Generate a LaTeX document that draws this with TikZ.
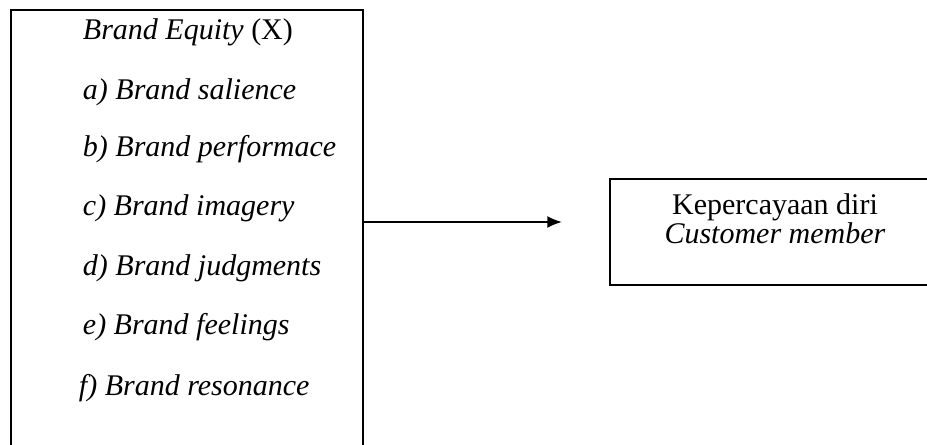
\documentclass[tikz,border=0pt]{standalone}
\usepackage{fontspec}
\setmainfont{Liberation Serif}
\usetikzlibrary{positioning, arrows.meta}

\begin{document}
\begin{tikzpicture}[>={Latex[length=11pt, width=9pt]}, x=0.75pt, y=-0.75pt, line width=1.4pt,
        kotak/.style={draw, line width=1.8pt, inner sep=0pt},
        teks/.style={inner sep=0pt, font=\fontsize{22.5}{20}\selectfont}]
                \useasboundingbox (0,0) rectangle (927,445);
                \clip (0,0) rectangle (927,445);
                
                % 1. Kotak variabel X dan Y
                \node[kotak, minimum width=264pt, minimum height=337.5pt] (kiri) at (187,235) {};
                \node[kotak, minimum width=247.5pt, minimum height=79.5pt] (kanan) at (775,232) {};
                
                % 2. Isi kotak kiri
                \node[teks, anchor=base west] (judul) at (82,40) {\textit{Brand Equity} (X)};
                \foreach \y/\x/\isi [count=\i] in {100/82/a) Brand salience, 157/82/b) Brand performace,
                        215/82/c) Brand imagery, 275/82/d) Brand judgments,
                        334/82/e) Brand feelings, 395/78/f) Brand resonance} {
                    \node[teks, anchor=base west] (item\i) at (\x,\y) {\textit{\isi}};
                }
                
                % 3. Isi kotak kanan
                \node[teks, align=center, anchor=north] (percaya) at (775,193)
                    {Kepercayaan diri\\\textit{Customer member}};
                
                % 4. Panah
                \coordinate (ujung) at (562,222);
                \draw[->] (kiri.east |- ujung) -- (ujung);
            \end{tikzpicture}
\end{document}
